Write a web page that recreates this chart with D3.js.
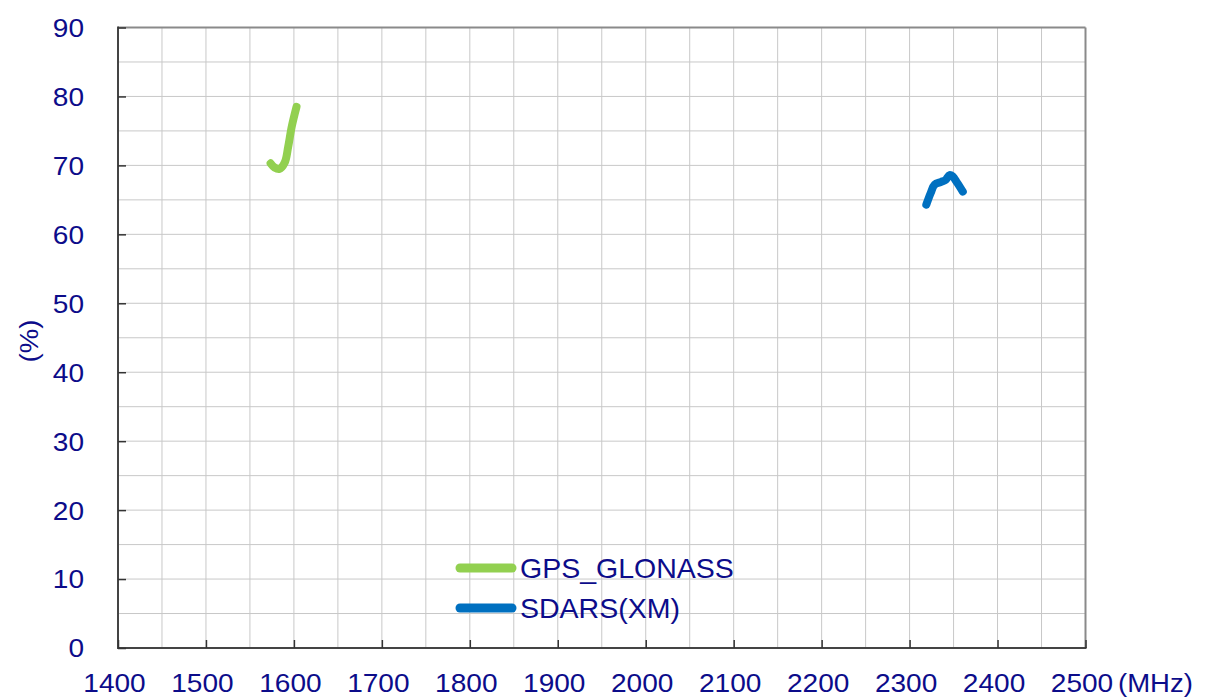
<!DOCTYPE html>
<html>
<head>
<meta charset="utf-8">
<script src="https://cdn.jsdelivr.net/npm/d3@7"></script>
<style>
  html, body { margin: 0; padding: 0; background: #fff; }
  svg { display: block; }
</style>
</head>
<body>
<svg id="chart" width="1205" height="700"></svg>
<script>
// ---- data ----
const seriesNames = ["GPS_GLONASS", "SDARS(XM)"];
const seriesColors = ["#92d050", "#0070c0"];
const gpsFreq = [1573.5, 1578, 1583.5, 1589.5, 1593.5, 1597.5, 1603];
const gpsEff  = [70.3, 69.7, 69.5, 70.4, 72.7, 75.6, 78.5];
const sdarsFreq = [2319, 2324, 2328.5, 2336, 2341, 2345.5, 2349, 2354, 2360.5];
const sdarsEff  = [64.3, 66.0, 67.2, 67.6, 67.9, 68.6, 68.4, 67.5, 66.2];
const xTicks = [1400, 1500, 1600, 1700, 1800, 1900, 2000, 2100, 2200, 2300, 2400, 2500];
const yTicks = [0, 10, 20, 30, 40, 50, 60, 70, 80, 90];
const xUnit = "(MHz)";
const yUnit = "(%)";

// ---- layout ----
const svg = d3.select("#chart");
const L = 118, R = 1085.5, T = 27.5, B = 648;
const x = d3.scaleLinear().domain([1400, 2500]).range([L, R]);
const y = d3.scaleLinear().domain([0, 90]).range([B, T]);
const textColor = "#0c0c8a";
const font = "'Liberation Sans', Arial, sans-serif";

function stretch(sel, f) {
  sel.each(function () {
    const w = this.getComputedTextLength();
    d3.select(this).attr("textLength", w * f).attr("lengthAdjust", "spacingAndGlyphs");
  });
}

// grid (minor every 50 MHz / 5 %)
const g = svg.append("g");
g.selectAll("line.vx").data(d3.range(1450, 2500, 50)).join("line")
  .attr("x1", d => x(d)).attr("x2", d => x(d)).attr("y1", T).attr("y2", B)
  .attr("stroke", "#c8c8c8").attr("stroke-width", 1);
g.selectAll("line.hy").data(d3.range(5, 90, 5)).join("line")
  .attr("y1", d => y(d)).attr("y2", d => y(d)).attr("x1", L).attr("x2", R)
  .attr("stroke", "#c8c8c8").attr("stroke-width", 1);

// frame
svg.append("line").attr("x1", L).attr("x2", R).attr("y1", T).attr("y2", T).attr("stroke", "#8a8a8a").attr("stroke-width", 2);
svg.append("line").attr("x1", R).attr("x2", R).attr("y1", T).attr("y2", B).attr("stroke", "#8a8a8a").attr("stroke-width", 2);
svg.append("line").attr("x1", L).attr("x2", L).attr("y1", T - 1).attr("y2", B + 1).attr("stroke", "#444").attr("stroke-width", 2);
svg.append("line").attr("x1", L - 1).attr("x2", R + 1).attr("y1", B).attr("y2", B).attr("stroke", "#444").attr("stroke-width", 2);

// axes via d3 axis (inner ticks)
const xAxis = svg.append("g").attr("transform", `translate(0,${B})`)
  .call(d3.axisBottom(x).tickValues(xTicks).tickSize(-8).tickFormat(d3.format("d")));
xAxis.select(".domain").remove();
xAxis.selectAll(".tick line").attr("stroke", "#333").attr("stroke-width", 1.5);
xAxis.selectAll(".tick text").attr("font-family", font).attr("font-size", 25.5).attr("fill", textColor)
  .attr("x", -4).attr("y", 44).attr("dy", null);
stretch(xAxis.selectAll(".tick text"), 1.1);

const yAxis = svg.append("g").attr("transform", `translate(${L},0)`)
  .call(d3.axisLeft(y).tickValues(yTicks).tickSize(-8).tickPadding(34));
yAxis.select(".domain").remove();
yAxis.selectAll(".tick line").attr("stroke", "#333").attr("stroke-width", 1.5);
yAxis.selectAll(".tick text").attr("font-family", font).attr("font-size", 25.5).attr("fill", textColor)
  .attr("dy", "0.35em");
stretch(yAxis.selectAll(".tick text"), 1.1);

// unit labels
const xu = svg.append("text").attr("x", 1118).attr("y", 692).attr("font-family", font).attr("font-size", 25.5)
  .attr("fill", textColor).text(xUnit);
stretch(xu, 1.08);
const yu = svg.append("text").attr("transform", "translate(38,341) rotate(-90)").attr("text-anchor", "middle")
  .attr("font-family", font).attr("font-size", 25.5).attr("fill", textColor).text(yUnit);
stretch(yu, 1.08);

// lines
const line = d3.line().x(d => x(d[0])).y(d => y(d[1])).curve(d3.curveCatmullRom);
const series = [d3.zip(gpsFreq, gpsEff), d3.zip(sdarsFreq, sdarsEff)];
series.forEach((s, i) => {
  svg.append("path").datum(s).attr("d", line).attr("fill", "none")
    .attr("stroke", seriesColors[i]).attr("stroke-width", 8)
    .attr("stroke-linecap", "round").attr("stroke-linejoin", "round");
});

// legend
const leg = svg.append("g");
const legY = [568, 608];
seriesNames.forEach((n, i) => {
  leg.append("line").attr("x1", 460).attr("x2", 512).attr("y1", legY[i]).attr("y2", legY[i])
    .attr("stroke", seriesColors[i]).attr("stroke-width", 9).attr("stroke-linecap", "round");
  const t = leg.append("text").attr("x", 520).attr("y", legY[i] + 10).attr("font-family", font)
    .attr("font-size", 28.5).attr("fill", textColor).text(n);
});
</script>
</body>
</html>
